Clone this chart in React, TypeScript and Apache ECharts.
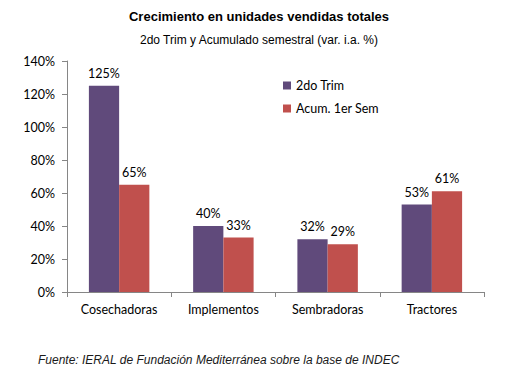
import React, { useEffect, useRef } from "react";
import * as echarts from "echarts";

const categories = ["Cosechadoras", "Implementos", "Sembradoras", "Tractores"];
const trim2 = [125, 40, 32, 53];
const acum1 = [65, 33, 29, 61];
const seriesNames = ["2do Trim", "Acum. 1er Sem"];

export default function App() {
  const ref = useRef<HTMLDivElement>(null);
  useEffect(() => {
    if (!ref.current) return;
    const chart = echarts.init(ref.current, null, { renderer: "svg" });
    const bodyFont = "Lato, 'Open Sans', sans-serif";
    chart.setOption({
      animation: false,
      backgroundColor: "#ffffff",
      title: [
        {
          text: "Crecimiento en unidades vendidas totales",
          left: 254,
          top: 5,
          textAlign: "center",
          textStyle: { fontFamily: "'Liberation Sans', Arial, sans-serif", fontSize: 13, fontWeight: "bold", color: "#000" },
        },
        {
          text: "2do Trim y Acumulado semestral (var. i.a. %)",
          left: 254,
          top: 29,
          textAlign: "center",
          textStyle: { fontFamily: "'Liberation Sans', Arial, sans-serif", fontSize: 12, fontWeight: "normal", color: "#000" },
        },
        {
          text: "Fuente: IERAL de Fundación Mediterránea sobre la base de INDEC",
          left: 33,
          top: 349,
          textStyle: { fontFamily: "'Liberation Sans', Arial, sans-serif", fontSize: 12, fontStyle: "italic", fontWeight: "normal", color: "#1a1a1a" },
        },
      ],
      legend: {
        orient: "vertical",
        left: 278,
        top: 74,
        itemWidth: 8,
        itemHeight: 8,
        itemGap: 10,
        icon: "rect",
        textStyle: { fontFamily: bodyFont, fontSize: 12.5, color: "#000" },
        data: seriesNames,
      },
      grid: { left: 67, right: 34, top: 61, bottom: 84 },
      xAxis: {
        type: "category",
        data: categories,
        axisLine: { lineStyle: { color: "#868686" } },
        axisTick: { show: true, length: 5, lineStyle: { color: "#868686" } },
        axisLabel: { fontFamily: bodyFont, fontSize: 12.5, color: "#000", margin: 11 },
      },
      yAxis: {
        type: "value",
        min: 0,
        max: 140,
        interval: 20,
        splitLine: { show: false },
        axisLine: { show: true, lineStyle: { color: "#868686" } },
        axisTick: { show: true, length: 5, lineStyle: { color: "#868686" } },
        axisLabel: { formatter: "{value}%", fontFamily: bodyFont, fontSize: 12.5, color: "#000", margin: 12 },
      },
      series: [
        {
          name: seriesNames[0],
          type: "bar",
          data: trim2,
          barGap: "0%",
          barCategoryGap: "42%",
          itemStyle: { color: "#604A7B" },
          label: { show: true, position: "top", formatter: "{c}%", fontFamily: bodyFont, fontSize: 12.5, color: "#000", distance: 6 },
        },
        {
          name: seriesNames[1],
          type: "bar",
          data: acum1,
          itemStyle: { color: "#C0504D" },
          label: { show: true, position: "top", formatter: "{c}%", fontFamily: bodyFont, fontSize: 12.5, color: "#000", distance: 6 },
        },
      ],
    });
    return () => chart.dispose();
  }, []);
  return (
    <div
      ref={ref}
      style={{ position: "fixed", left: 0, top: 0, width: 518, height: 376, background: "#fff" }}
    />
  );
}
